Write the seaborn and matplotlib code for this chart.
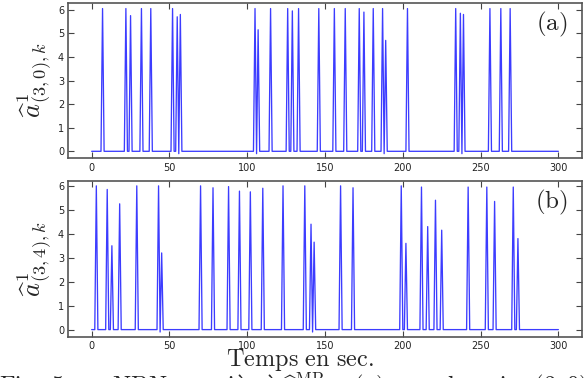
import numpy as np
import pandas as pd
import seaborn as sns
from matplotlib import pyplot as plt

# spike times (s) and heights, panel (a)
times_a = [7, 22, 25, 32, 38, 52, 55, 56, 57, 105, 106, 107, 115, 126, 129, 133, 146, 156, 163,
           172, 175, 181, 187, 188, 189, 203, 234, 237, 238, 239, 256, 263, 269]
values_a = [6.05, 6.05, 5.75, 6.05, 6.05, 6.05, 5.7, -0.1, 5.8, 6.05, -0.1, 5.15, 6.05, 6.05, 5.95, 6.05,
            6.05, 6.05, 6.05, 6.05, 5.9, 6.05, 6.05, -0.1, 4.7, 6.05, 6.05, 5.85, -0.1, 5.8, 6.05, 6.05, 6.05]

# panel (b)
times_b = [3, 10, 13, 18, 29, 43, 44, 45, 70, 78, 88, 95, 102, 110, 123, 137, 141, 142, 143, 160, 168,
           199, 202, 212, 216, 221, 225, 242, 254, 259, 271, 274]
values_b = [6.0, 5.85, 3.5, 5.25, 6.0, 6.0, -0.1, 3.2, 6.0, 5.92, 5.97, 5.78, 5.75, 5.9, 6.0, 6.0, 4.4,
            -0.1, 3.65, 6.0, 5.92, 6.0, 3.6, 5.95, 4.3, 5.4, 4.15, 5.95, 5.95, 5.35, 5.95, 3.8]

t = np.arange(0, 301)


def build(times, values):
    s = pd.Series(0.0, index=t)
    s.loc[times] = values
    return pd.DataFrame({'t': t, 'v': s.values})


df_a = build(times_a, values_a)
df_b = build(times_b, values_b)

sns.set_style('ticks')
plt.rcParams['mathtext.fontset'] = 'cm'
plt.rcParams['font.family'] = ['DejaVu Sans']

fig = plt.figure(figsize=(5.87, 3.78), dpi=100)
ax1 = fig.add_axes([0.1164, 0.581, 0.8746, 0.412])
ax2 = fig.add_axes([0.1164, 0.109, 0.8746, 0.412])

panels = [(ax1, df_a, r'$\widehat{a}^{1}_{(3,0),k}$', r'$\mathrm{(a)}$', (-0.3, 6.3)),
          (ax2, df_b, r'$\widehat{a}^{1}_{(3,4),k}$', r'$\mathrm{(b)}$', (-0.3, 6.2))]

for ax, d, lab, tag, yl in panels:
    sns.lineplot(data=d, x='t', y='v', ax=ax, color='#1a1aff', lw=0.95, alpha=0.85)
    ax.set_xlim(-15, 315)
    ax.set_ylim(*yl)
    ax.set_xticks([0, 50, 100, 150, 200, 250, 300])
    ax.set_yticks([0, 1, 2, 3, 4, 5, 6])
    ax.tick_params(direction='in', top=True, right=True, labelsize=7, length=4,
                   color='#444444', labelcolor='#222222', pad=3)
    for sp in ax.spines.values():
        sp.set_color('#555555')
        sp.set_linewidth(1.2)
    ax.set_xlabel('')
    ax.set_ylabel(lab, fontsize=19, labelpad=3)
    ax.text(0.973, 0.86, tag, transform=ax.transAxes, ha='right', va='center', fontsize=18)

fig.text(0.511, 0.047, r'$\mathrm{Temps\ en\ sec.}$', ha='center', va='center', fontsize=17.5)
fig.text(0.5, -0.022, r'$\mathrm{Fig.\ 5 \ -\ \ NBN\ associ\`ee\ \grave{a}\ \widehat{a}^{MP}\ :\ (a)\ pour\ la\ paire\ (3,0)}$',
         ha='center', va='center', fontsize=17.5)

fig.savefig('out.png', dpi=100)
